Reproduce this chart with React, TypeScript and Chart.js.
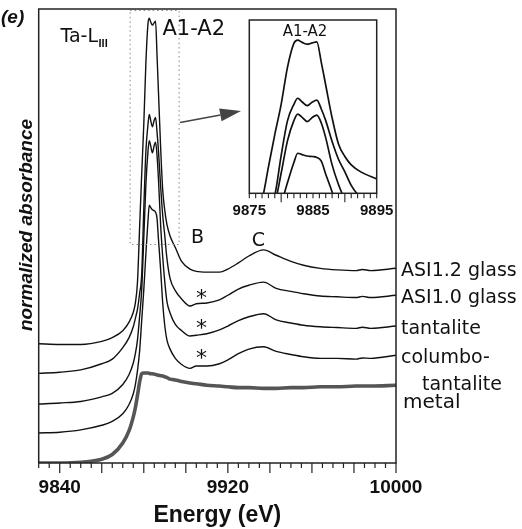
import React, { useEffect, useRef } from "react";
import { Chart, registerables } from "chart.js";

Chart.register(...registerables);

// Photon energy grid (eV) shared by every spectrum
const energy = [
  9830, 9840, 9850, 9860, 9865, 9870, 9873, 9875, 9876, 9877, 9878, 9879, 9880, 9881, 9882, 9882.6,
  9883.3, 9884.1, 9884.9, 9885.6, 9886.3, 9887, 9888, 9889, 9890, 9891, 9892.5, 9895, 9898, 9902, 9905,
  9910, 9916, 9920, 9925, 9930, 9937, 9943, 9950, 9956, 9964, 9972, 9981, 9984, 9988, 10000,
];

// Normalized absorbance, stacked with a vertical offset per sample
const asi12Glass = [
  1.55, 1.54, 1.54, 1.58, 1.63, 1.72, 1.83, 1.96, 2.08, 2.35, 3.05, 3.75, 4.4, 5.2, 5.71, 5.78,
  5.73, 5.69, 5.72, 5.74, 5.3, 4.81, 4.11, 3.55, 3.28, 3.1, 2.95, 2.8, 2.62, 2.52, 2.49,
  2.48, 2.48, 2.52, 2.6, 2.69, 2.77, 2.7, 2.62, 2.57, 2.53, 2.51, 2.5, 2.515, 2.5, 2.53,
];
const asi10Glass = [
  1.165, 1.18, 1.21, 1.29, 1.35, 1.5, 1.63, 1.77, 1.88, 2.0, 2.2, 2.45, 3.3, 4.05, 4.4, 4.53,
  4.45, 4.37, 4.45, 4.49, 4.3, 4.05, 3.6, 3.22, 2.95, 2.66, 2.4, 2.24, 2.13, 2.04, 2.07,
  2.08, 2.12, 2.18, 2.26, 2.31, 2.35, 2.27, 2.23, 2.2, 2.17, 2.16, 2.15, 2.165, 2.15, 2.18,
];
const tantalite = [
  0.766, 0.78, 0.8, 0.86, 0.905, 1.02, 1.15, 1.3, 1.42, 1.6, 1.9, 2.25, 2.92, 3.62, 4.05, 4.19,
  4.12, 4.03, 4.12, 4.17, 4.0, 3.68, 3.1, 2.68, 2.35, 2.1, 1.95, 1.8, 1.72, 1.65, 1.66,
  1.68, 1.73, 1.78, 1.85, 1.9, 1.94, 1.86, 1.82, 1.79, 1.77, 1.76, 1.75, 1.765, 1.75, 1.78,
];
const columboTantalite = [
  0.39, 0.4, 0.43, 0.49, 0.54, 0.64, 0.76, 0.9, 1.02, 1.2, 1.45, 1.85, 2.25, 2.72, 3.15, 3.35,
  3.32, 3.29, 3.28, 3.26, 3.18, 2.9, 2.52, 2.08, 1.78, 1.6, 1.48, 1.36, 1.28, 1.23, 1.26,
  1.26, 1.29, 1.34, 1.42, 1.48, 1.51, 1.45, 1.41, 1.38, 1.36, 1.36, 1.35, 1.365, 1.36, 1.4,
];
const taMetal = [
  0, 0, 0.01, 0.05, 0.11, 0.26, 0.42, 0.6, 0.72, 0.88, 1.05, 1.16, 1.17, 1.17, 1.17, 1.165,
  1.16, 1.16, 1.155, 1.15, 1.145, 1.14, 1.135, 1.13, 1.12, 1.11, 1.09, 1.08, 1.06, 1.04, 1.03,
  1.01, 1.0, 0.99, 0.98, 0.98, 0.97, 0.97, 0.98, 0.98, 0.99, 0.99, 1.0, 1.0, 1.0, 1.01,
];

const oxideSeries = [asi12Glass, asi10Glass, tantalite, columboTantalite];
const oxideLabels = [["ASI1.2 glass"], ["ASI1.0 glass"], ["tantalite"], ["columbo-", "tantalite"]];
const metalLabel = "metal";

// Axis ranges and tick labels
const mainRange = [9830, 10000];
const mainYRange = [0, 5.9];
const mainTickLabels = [9840, 9920, 10000];
const insetRange = [9875, 9895];
const insetYRange = [2.49, 6.21];
const insetTickLabels = [9875, 9885, 9895];

// Zoom window around the A1-A2 white line: [eMin, eMax, yMin, yMax]
const zoomWindow = [9873.5, 9896.8, 2.84, 5.88];
// Feature letters (text anchor: left edge energy, baseline absorbance)
const featureB = { e: 9902.5, y: 2.855 };
const featureC = { e: 9931.4, y: 2.82 };
const starEnergy = 9907.5;
const starLevels = [2.16, 1.77, 1.38];

const toPoints = (vals: number[]) => energy.map((e, i) => ({ x: e, y: vals[i] }));

const SANS = "'Liberation Sans', Arial, sans-serif";
const GENEVA = "'DejaVu Sans', Verdana, sans-serif";

const lineDataset = (vals: number[], color: string, width: number) => ({
  data: toPoints(vals),
  borderColor: color,
  borderWidth: width,
  pointRadius: 0,
  fill: false,
  cubicInterpolationMode: "monotone" as const,
});

const mainDecor = {
  id: "mainDecor",
  afterDraw(chart: any) {
    const { ctx, chartArea: a, scales } = chart;
    const x = scales.x;
    const y = scales.y;
    ctx.save();

    // frame
    ctx.strokeStyle = "#222";
    ctx.lineWidth = 1.5;
    ctx.strokeRect(a.left, a.top, a.right - a.left, a.bottom - a.top);

    // energy ticks: long every 20 eV, short every 5 eV
    ctx.lineWidth = 1.2;
    for (let v = mainRange[0]; v <= mainRange[1]; v += 5) {
      const px = x.getPixelForValue(v);
      const len = v % 20 === 0 ? 10 : 5;
      ctx.beginPath();
      ctx.moveTo(px, a.bottom);
      ctx.lineTo(px, a.bottom + len);
      ctx.stroke();
    }

    // dotted zoom window
    const zl = x.getPixelForValue(zoomWindow[0]);
    const zr = x.getPixelForValue(zoomWindow[1]);
    const zb = y.getPixelForValue(zoomWindow[2]);
    const zt = y.getPixelForValue(zoomWindow[3]);
    ctx.setLineDash([1.5, 3]);
    ctx.strokeStyle = "#888";
    ctx.lineWidth = 1;
    ctx.strokeRect(zl, zt, zr - zl, zb - zt);
    ctx.setLineDash([]);

    // arrow towards the inset
    const ax0 = zr + 1;
    const ay0 = 122.5;
    const ax1 = 241;
    const ay1 = 111;
    const ang = Math.atan2(ay1 - ay0, ax1 - ax0);
    const headLen = 21;
    const headHalf = 6.5;
    const bx = ax1 - headLen * Math.cos(ang);
    const by = ay1 - headLen * Math.sin(ang);
    ctx.strokeStyle = "#444";
    ctx.fillStyle = "#444";
    ctx.lineWidth = 1.5;
    ctx.beginPath();
    ctx.moveTo(ax0, ay0);
    ctx.lineTo(bx, by);
    ctx.stroke();
    ctx.beginPath();
    ctx.moveTo(ax1, ay1);
    ctx.lineTo(bx - headHalf * Math.sin(ang), by + headHalf * Math.cos(ang));
    ctx.lineTo(bx + headHalf * Math.sin(ang), by - headHalf * Math.cos(ang));
    ctx.closePath();
    ctx.fill();

    ctx.fillStyle = "#111";
    ctx.textBaseline = "alphabetic";

    // panel letter
    ctx.font = `italic bold 19px ${SANS}`;
    ctx.textAlign = "left";
    ctx.fillText("(e)", 1, 23);

    // edge label Ta-L_III
    ctx.font = `19px ${GENEVA}`;
    ctx.fillText("Ta-L", 60.5, 41.7);
    const taW = ctx.measureText("Ta-L").width;
    ctx.font = `bold 11px ${SANS}`;
    ctx.fillText("III", 60.5 + taW + 0.5, 46.5);

    // white-line label
    ctx.font = `21px ${GENEVA}`;
    ctx.fillText("A1-A2", 162.5, 35);

    // B and C features
    ctx.font = `19px ${GENEVA}`;
    ctx.fillText("B", x.getPixelForValue(featureB.e), y.getPixelForValue(featureB.y));
    ctx.fillText("C", x.getPixelForValue(featureC.e), y.getPixelForValue(featureC.y));

    // asterisks
    ctx.font = `22px ${GENEVA}`;
    ctx.textAlign = "center";
    for (const lv of starLevels) {
      ctx.fillText("*", x.getPixelForValue(starEnergy), y.getPixelForValue(lv) + 8);
    }

    // sample labels at the right end of each trace
    ctx.textAlign = "left";
    ctx.font = `19px ${GENEVA}`;
    const lx = a.right + 5;
    oxideSeries.forEach((vals, i) => {
      const endY = y.getPixelForValue(vals[vals.length - 1]);
      const lines = oxideLabels[i];
      ctx.fillText(lines[0], lx, endY + 8);
      if (lines[1]) ctx.fillText(lines[1], lx + 21, endY + 35);
    });
    ctx.font = `20px ${GENEVA}`;
    ctx.fillText(metalLabel, lx + 2, y.getPixelForValue(taMetal[taMetal.length - 1]) + 23);

    // axis titles
    ctx.font = `bold 23px ${SANS}`;
    ctx.textAlign = "center";
    ctx.fillText("Energy (eV)", (a.left + a.right) / 2, 522);

    ctx.save();
    ctx.translate(32, 225);
    ctx.rotate(-Math.PI / 2);
    ctx.font = `italic bold 19px ${SANS}`;
    ctx.fillText("normalized absorbance", 0, 0);
    ctx.restore();

    ctx.restore();
  },
};

const insetDecor = {
  id: "insetDecor",
  afterDraw(chart: any) {
    const { ctx, chartArea: a, scales } = chart;
    const x = scales.x;
    ctx.save();
    ctx.strokeStyle = "#222";
    ctx.lineWidth = 1.5;
    ctx.strokeRect(a.left, a.top, a.right - a.left, a.bottom - a.top);
    ctx.lineWidth = 1.1;
    for (let v = insetRange[0]; v <= insetRange[1]; v += 1) {
      const px = x.getPixelForValue(v);
      const len = v === 9880 || v === 9890 ? 9 : 5;
      ctx.beginPath();
      ctx.moveTo(px, a.bottom);
      ctx.lineTo(px, a.bottom + len);
      ctx.stroke();
    }
    ctx.fillStyle = "#111";
    ctx.font = `15px ${GENEVA}`;
    ctx.textAlign = "center";
    ctx.textBaseline = "alphabetic";
    ctx.fillText("A1-A2", (a.left + a.right) / 2 - 8, a.top + 15.5);
    ctx.restore();
  },
};

const tickFont = (size: number) => ({ family: SANS, weight: "bold" as const, size });

export default function App() {
  const mainRef = useRef<HTMLCanvasElement>(null);
  const insetRef = useRef<HTMLCanvasElement>(null);

  useEffect(() => {
    const main = new Chart(mainRef.current!, {
      type: "line",
      data: {
        datasets: [
          ...oxideSeries.map((vals) => lineDataset(vals, "#111", 1.4)),
          lineDataset(taMetal, "#555", 3.6),
        ],
      },
      options: {
        animation: false,
        responsive: false,
        events: [],
        layout: { padding: { left: 38.7, top: 9, right: 126, bottom: 0 } },
        plugins: { legend: { display: false }, tooltip: { enabled: false } },
        scales: {
          x: {
            type: "linear",
            min: mainRange[0],
            max: mainRange[1],
            afterBuildTicks: (s: any) => {
              s.ticks = mainTickLabels.map((v) => ({ value: v }));
            },
            afterFit: (s: any) => {
              s.height = 66;
            },
            ticks: {
              callback: (v: any) => String(v),
              font: tickFont(19),
              color: "#111",
              padding: 3,
              maxRotation: 0,
              autoSkip: false,
            },
            grid: { display: true, drawOnChartArea: false, drawTicks: true, tickLength: 10, tickColor: "rgba(0,0,0,0)" },
            border: { display: false },
          },
          y: { type: "linear", display: false, min: mainYRange[0], max: mainYRange[1] },
        },
      },
      plugins: [mainDecor],
    });

    const inset = new Chart(insetRef.current!, {
      type: "line",
      data: {
        datasets: oxideSeries.map((vals) => lineDataset(vals, "#111", 1.7)),
      },
      options: {
        animation: false,
        responsive: false,
        events: [],
        layout: { padding: { left: 249.3, top: 20, right: 145.3, bottom: 529 - 193.3 - 26 } },
        plugins: { legend: { display: false }, tooltip: { enabled: false } },
        scales: {
          x: {
            type: "linear",
            min: insetRange[0],
            max: insetRange[1],
            afterBuildTicks: (s: any) => {
              s.ticks = insetTickLabels.map((v) => ({ value: v }));
            },
            afterFit: (s: any) => {
              s.height = 26;
            },
            ticks: {
              callback: (v: any) => String(v),
              font: tickFont(15),
              color: "#111",
              padding: 1,
              maxRotation: 0,
              autoSkip: false,
            },
            grid: { display: true, drawOnChartArea: false, drawTicks: true, tickLength: 8, tickColor: "rgba(0,0,0,0)" },
            border: { display: false },
          },
          y: { type: "linear", display: false, min: insetYRange[0], max: insetYRange[1] },
        },
      },
      plugins: [insetDecor],
    });

    return () => {
      main.destroy();
      inset.destroy();
    };
  }, []);

  return (
    <div style={{ position: "absolute", left: 0, top: 0, width: 522, height: 529, background: "#fff" }}>
      <canvas ref={mainRef} width={522} height={529} style={{ position: "absolute", left: 0, top: 0 }} />
      <canvas ref={insetRef} width={522} height={529} style={{ position: "absolute", left: 0, top: 0 }} />
    </div>
  );
}
